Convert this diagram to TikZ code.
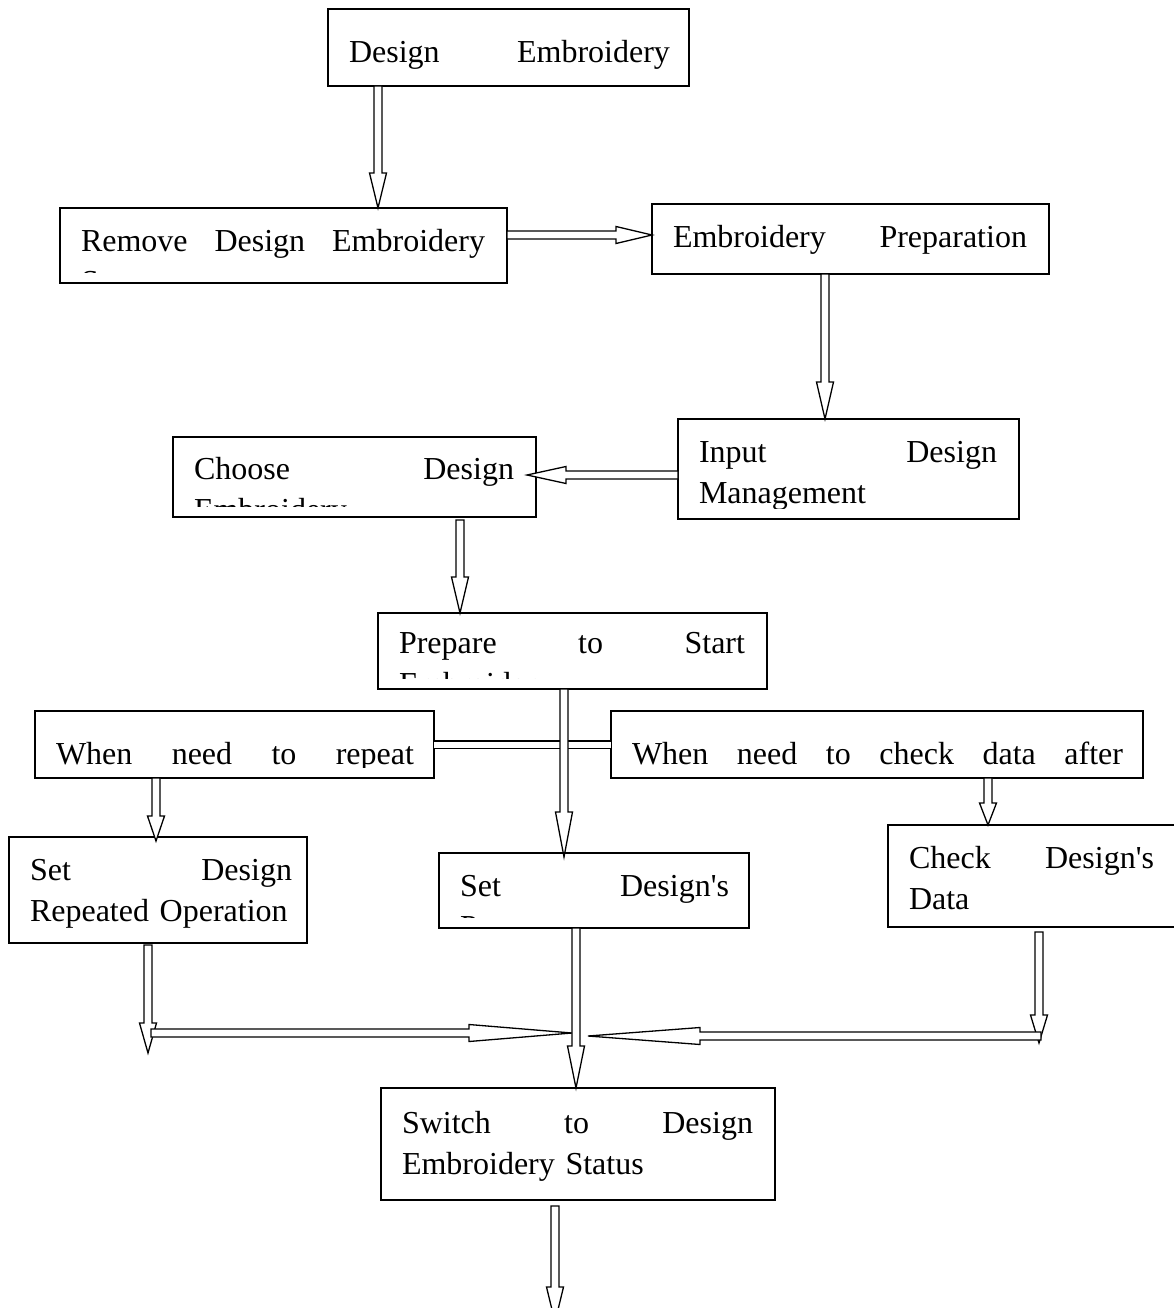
\documentclass[tikz,border=0pt]{standalone}
\usepackage{fontspec}
\setmainfont{Liberation Serif}
\usetikzlibrary{calc}

\begin{document}
\begin{tikzpicture} [x = 1pt, y = -1pt,
    box/.style = {draw,
    line width = 1.5pt,
    inner sep = 0pt,
    outer sep = 0pt},
    txt/.style = {inner sep = 0pt,
    outer sep = 0pt,
    minimum width = 0pt,
    minimum height = 0pt,
    anchor = north west,
    align = left,
    font = \fontsize{32}{41}\selectfont},
    words/.style n args = {3}{path picture = {
    \clip ([yshift=11pt]path picture bounding box.south west) rectangle (path picture bounding box.north east);
    \node [txt, text width = #1pt] at ([xshift=21pt, yshift=28.7pt-#2pt]path picture bounding box.north west) {\strut #3};}},
    hollow/.style = {fill = white,
    line width = 1.3pt,
    to path = {let \p1 = (\tikztostart), \p2 = (\tikztotarget), \p3 = ($(\p2)!#1!(\p1)$) in
    ($(\p1)!4pt!90:(\p2)$) -- ($(\p3)!4pt!90:(\p2)$) -- ($(\p3)!8.5pt!90:(\p2)$) -- (\p2)
    -- ($(\p3)!8.5pt!-90:(\p2)$) -- ($(\p3)!4pt!-90:(\p2)$) -- ($(\p1)!4pt!-90:(\p2)$) -- cycle}},
    hollow/.default = 36pt]

\fill [white] (0,0) rectangle (1174,1308);
\useasboundingbox (0,0) rectangle (1174,1308);

% boxes
\node (de) at (508.5,47.5) [box, minimum width = 361, minimum height = 77, words = {321}{54}{Design\hfill Embroidery}] {};
\node (rm) at (283.5,245.5) [box, minimum width = 447, minimum height = 75, words = {404}{43}{Remove\hfill Design\hfill Embroidery\\Status}] {};
\node (ep) at (850.5,239) [box, minimum width = 397, minimum height = 70, words = {354}{43}{Embroidery\hfill Preparation}] {};
\node (im) at (848.5,469) [box, minimum width = 341, minimum height = 100, words = {298}{43}{Input\hfill Design\\Management}] {};
\node (ch) at (354.5,477) [box, minimum width = 363, minimum height = 80, words = {320}{42}{Choose\hfill Design\\Embroidery}] {};
\node (pp) at (572.5,651) [box, minimum width = 389, minimum height = 76, words = {346}{40}{Prepare\hfill to\hfill Start\\Embroidery}] {};
\node (wr) at (234.5,744.5) [box, minimum width = 399, minimum height = 67, words = {358}{53}{When\hfill need\hfill to\hfill repeat}] {};
\node (wc) at (877,744.5) [box, minimum width = 532, minimum height = 67, words = {491}{53}{When\hfill need\hfill to\hfill check\hfill data\hfill after}] {};
\node (sr) at (158,890) [box, minimum width = 298, minimum height = 106, words = {262}{43}{Set\hfill Design\\Repeated Operation}] {};
\node (sd) at (594,890.5) [box, minimum width = 310, minimum height = 75, words = {269}{43}{Set\hfill Design\textquotesingle s\\Parameters}] {};
\node (ck) at (1034,876) [box, minimum width = 292, minimum height = 102, words = {245}{43}{Check\hfill Design\textquotesingle s\\Data}] {};
\node (sw) at (578,1144) [box, minimum width = 394, minimum height = 112, words = {351}{45}{Switch\hfill to\hfill Design\\Embroidery Status}] {};

% free ends
\coordinate (lfoot) at (148,1053);
\coordinate (lbar) at (151,1033);
\coordinate (lmeet) at (572,1033);
\coordinate (rfoot) at (1039,1043);
\coordinate (rbar) at (1041,1036);
\coordinate (rmeet) at (588,1036);
\coordinate (exit) at (555,1322);

% links
\draw [double, double distance = 6pt, line width = 1.3pt] (wr.east) -- (wc.west);
\draw [hollow=35pt] (de.south -| 378,0) to (rm.north -| 378,0);
\draw [hollow] (rm.east |- 0,235) to (ep.west |- 0,235);
\draw [hollow=37pt] (ep.south -| 825,0) to (im.north -| 825,0);
\draw [hollow=39pt] (im.west |- 0,475) to ($(ch.east |- 0,475)+(-9,0)$);
\draw [hollow] ($(ch.south -| 460,0)+(0,3)$) to (pp.north -| 460,0);
\draw [hollow=45pt] (pp.south -| 564,0) to ($(sd.north -| 564,0)+(0,4)$);
\draw [hollow=25pt] (wr.south -| 156,0) to ($(sr.north -| 156,0)+(0,4)$);
\draw [hollow=22pt] (wc.south -| 988,0) to (ck.north -| 988,0);
\draw [hollow=30pt] ($(sr.south -| 148,0)+(0,2)$) to (lfoot);
\draw [hollow=28pt] ($(ck.south -| 1039,0)+(0,5)$) to (rfoot);
\draw [hollow=103pt] (lbar) to (lmeet);
\draw [hollow=112pt] (rbar) to (rmeet);
\draw [hollow=42pt] (sd.south -| 576,0) to (sw.north -| 576,0);
\draw [hollow=35pt] ($(sw.south -| 555,0)+(0,6)$) to (exit);

\end{tikzpicture}
\end{document}
